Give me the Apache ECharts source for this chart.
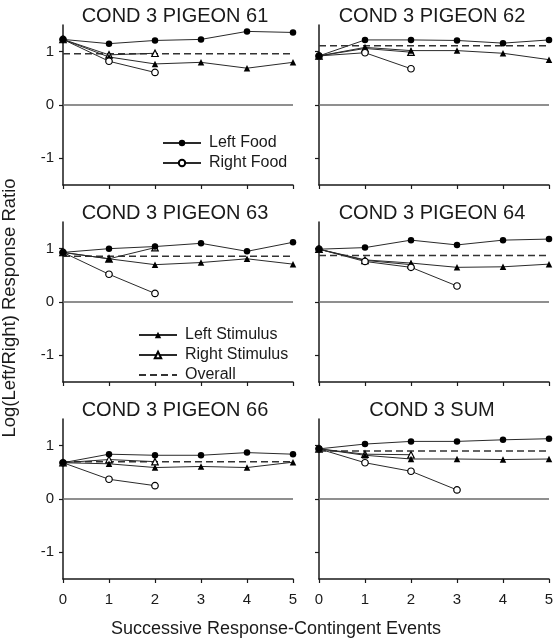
<!DOCTYPE html>
<html>
<head>
<meta charset="utf-8">
<script src="https://cdn.jsdelivr.net/npm/echarts@6/dist/echarts.min.js"></script>
<style>
  html, body { margin: 0; padding: 0; background: #fff; }
  #chart { width: 560px; height: 642px; }
</style>
</head>
<body>
<div id="chart"></div>
<script>
// successive response-contingent events (x axis)
const events = [0, 1, 2, 3, 4, 5];
const panelTitles = ['COND 3 PIGEON 61', 'COND 3 PIGEON 62', 'COND 3 PIGEON 63',
                     'COND 3 PIGEON 64', 'COND 3 PIGEON 66', 'COND 3 SUM'];
const yTicks = [-1, 0, 1];

// one row per panel, in the order of panelTitles
const leftFood = [
    [1.23, 1.15, 1.21, 1.23, 1.38, 1.36],
    [0.92, 1.22, 1.22, 1.21, 1.16, 1.22],
    [0.93, 1.00, 1.04, 1.10, 0.95, 1.12],
    [0.99, 1.02, 1.16, 1.07, 1.16, 1.18],
    [0.68, 0.84, 0.82, 0.82, 0.87, 0.84],
    [0.94, 1.03, 1.08, 1.08, 1.11, 1.13]
];
const rightFood = [
    [1.23, 0.82, 0.61],
    [0.92, 0.98, 0.68],
    [0.93, 0.52, 0.16],
    [0.99, 0.76, 0.65, 0.30],
    [0.68, 0.37, 0.25],
    [0.94, 0.68, 0.52, 0.17]
];
const leftStimulus = [
    [1.23, 0.90, 0.77, 0.80, 0.69, 0.80],
    [0.92, 1.08, 1.02, 1.02, 0.97, 0.85],
    [0.93, 0.81, 0.70, 0.74, 0.81, 0.71],
    [0.99, 0.79, 0.73, 0.65, 0.66, 0.71],
    [0.68, 0.66, 0.59, 0.61, 0.59, 0.69],
    [0.94, 0.82, 0.75, 0.75, 0.74, 0.75]
];
const rightStimulus = [
    [1.23, 0.94, 0.97],
    [0.92, 1.06, 0.99],
    [0.93, 0.81, 1.02],
    [0.99, 0.78, 0.70],
    [0.68, 0.74, 0.70],
    [0.94, 0.84, 0.83]
];
const overall = [0.96, 1.11, 0.86, 0.87, 0.70, 0.90];

const FONT = 'Liberation Sans, Arial, Helvetica, sans-serif';
const INK = '#1a1a1a';

const colLeft = [63, 319];
const rowTop = [25, 222, 419];
const gw = 230, gh = 160;

const pairs = vals => vals.map((v, i) => [events[i], v]);

// filled vs open markers
const filled = { color: '#000', borderColor: '#000', borderWidth: 0 };
const hollow = { color: '#fff', borderColor: '#000', borderWidth: 1.2 };

let grids = [], xAxes = [], yAxes = [], series = [], graphics = [];

panelTitles.forEach((title, p) => {
    const col = p % 2, row = Math.floor(p / 2);
    grids.push({ left: colLeft[col], top: rowTop[row], width: gw, height: gh });
    xAxes.push({
        gridIndex: p, type: 'value', min: 0, max: 5, interval: 1,
        axisLine: { onZero: false, lineStyle: { color: INK, width: 1.5 } },
        axisTick: { length: 4, lineStyle: { color: INK, width: 1.2 } },
        axisLabel: { show: row === 2, color: INK, fontSize: 15, fontFamily: FONT, margin: 13 },
        splitLine: { show: false }
    });
    yAxes.push({
        gridIndex: p, type: 'value', min: -1.5, max: 1.5,
        axisLine: { show: true, onZero: false, lineStyle: { color: INK, width: 1.5 } },
        axisTick: { show: true, length: 4, customValues: yTicks, lineStyle: { color: INK, width: 1.2 } },
        axisLabel: { show: col === 0, customValues: yTicks, color: INK, fontSize: 15, fontFamily: FONT, margin: 9 },
        splitLine: { show: false }
    });

    const common = { xAxisIndex: p, yAxisIndex: p, type: 'line', symbolSize: 6.5, animation: false,
                     lineStyle: { color: '#2a2a2a', width: 1 } };

    series.push({
        ...common, name: 'Overall', symbol: 'none',
        data: [[events[0], overall[p]], [events[5], overall[p]]],
        lineStyle: { color: '#333', width: 1.5, type: [7, 4] },
        itemStyle: { color: '#333', opacity: 0 },
        markLine: {
            silent: true, symbol: 'none', label: { show: false },
            lineStyle: { color: '#6a6a6a', width: 1.5, type: 'solid' },
            data: [[{ coord: [0, 0] }, { coord: [5, 0] }]]
        }
    });
    series.push({ ...common, name: 'Right Stimulus', symbol: 'triangle', itemStyle: hollow, data: pairs(rightStimulus[p]) });
    series.push({ ...common, name: 'Left Stimulus', symbol: 'triangle', itemStyle: filled, data: pairs(leftStimulus[p]) });
    series.push({ ...common, name: 'Right Food', symbol: 'circle', itemStyle: hollow, data: pairs(rightFood[p]) });
    series.push({ ...common, name: 'Left Food', symbol: 'circle', itemStyle: filled, data: pairs(leftFood[p]) });

    graphics.push({
        type: 'text', x: colLeft[col] + (col === 0 ? 112 : 113), y: rowTop[row] - 9,
        style: { text: title, fontSize: 20, fontFamily: FONT, fill: INK,
                 textAlign: 'center', textVerticalAlign: 'middle' }
    });
});

graphics.push({
    type: 'text', x: 10, y: 308, rotation: Math.PI / 2,
    style: { text: 'Log(Left/Right) Response Ratio', fontSize: 18.5, fontFamily: FONT, fill: INK,
             textAlign: 'center', textVerticalAlign: 'middle' }
});
graphics.push({
    type: 'text', x: 276, y: 629,
    style: { text: 'Successive Response-Contingent Events', fontSize: 18, fontFamily: FONT, fill: INK,
             textAlign: 'center', textVerticalAlign: 'middle' }
});

const legendCommon = {
    orient: 'vertical', itemWidth: 38, itemHeight: 8, itemGap: 4,
    selectedMode: false,
    textStyle: { fontSize: 16, fontFamily: FONT, color: INK, padding: [0, 0, 0, 3] }
};

const option = {
    animation: false,
    backgroundColor: '#fff',
    grid: grids,
    xAxis: xAxes,
    yAxis: yAxes,
    legend: [
        { ...legendCommon, left: 157, top: 130, data: ['Left Food', 'Right Food'] },
        { ...legendCommon, left: 133, top: 322, data: ['Left Stimulus', 'Right Stimulus', 'Overall'] }
    ],
    graphic: graphics,
    series: series
};

const chart = echarts.init(document.getElementById('chart'), null, { renderer: 'canvas' });
chart.setOption(option);
</script>
</body>
</html>
